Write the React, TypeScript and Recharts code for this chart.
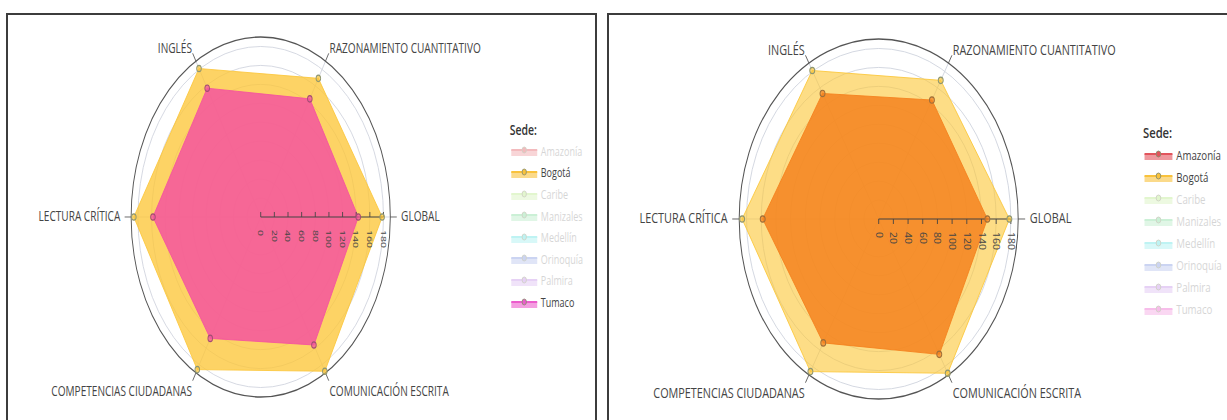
import React from "react";
import { PolarAngleAxis, PolarGrid, PolarRadiusAxis, Radar, RadarChart } from "recharts";

const ejes = [
  "GLOBAL",
  "RAZONAMIENTO CUANTITATIVO",
  "INGLÉS",
  "LECTURA CRÍTICA",
  "COMPETENCIAS CIUDADANAS",
  "COMUNICACIÓN ESCRITA",
];

const bogota = [181, 186, 186, 188, 178, 169];
const tumaco = [157, 158, 148, 156, 143, 144];
const amazonia = [153, 158, 151, 165, 148, 145];

const sedes = ["Amazonía", "Bogotá", "Caribe", "Manizales", "Medellín", "Orinoquía", "Palmira", "Tumaco"];
const coloresSede = ["#e2545c", "#f9c23c", "#b8e986", "#7fdc9a", "#5fe3e3", "#7f95e0", "#c38ee8", "#ec5ccc"];

const ticksRadio = [0, 20, 40, 60, 80, 100, 120, 140, 160, 180];
const maxRadio = 190;

const data = ejes.map((eje, i) => ({
  eje,
  "Bogotá": bogota[i],
  Tumaco: tumaco[i],
  "Amazonía": amazonia[i],
}));

const FONT = "'Open Sans', sans-serif";

type Serie = { sede: string; fill: string; opacity: number; dot: string };

function Leyenda({ activas, left, top, step }: { activas: string[]; left: number; top: number; step: number }) {
  return (
    <div style={{ position: "absolute", left, top, fontFamily: FONT }}>
      <div style={{ fontSize: 14.5, fontWeight: 600, color: "#333", height: step, lineHeight: `${step}px` }}>Sede:</div>
      {sedes.map((s, i) => {
        const on = activas.includes(s);
        return (
          <div key={s} style={{ display: "flex", alignItems: "center", height: step, opacity: on ? 1 : 0.4 }}>
            <svg width={40} height={14}>
              <rect x={2} y={6} width={36} height={6} fill={coloresSede[i]} fillOpacity={0.6} />
              <line x1={2} x2={38} y1={6} y2={6} stroke={coloresSede[i]} strokeWidth={2} />
              <circle cx={20} cy={6} r={3} fill={coloresSede[i]} stroke="#8a8f70" strokeWidth={1} />
            </svg>
            <span style={{ fontSize: 12.5, color: on ? "#444" : "#999", marginLeft: 3 }}>{s}</span>
          </div>
        );
      })}
    </div>
  );
}

function Panel({
  left,
  width,
  k,
  cx,
  cy,
  series,
  ticksUp,
  legendLeft,
  legendTop,
  step,
}: {
  left: number;
  width: number;
  k: number;
  cx: number;
  cy: number;
  series: Serie[];
  ticksUp: boolean;
  legendLeft: number;
  legendTop: number;
  step: number;
}) {
  const ancho = width / k;

  const AngleTick = (props: any) => {
    const { x, y, payload, textAnchor } = props;
    const sign = textAnchor === "end" ? -1 : 1;
    let dx = 6 * sign;
    let dy = 4.5;
    if (y < cy - 20) {
      dx = sign;
      dy = 0;
    } else if (y > cy + 20) {
      dx = sign;
      dy = 15;
    }
    return (
      <text x={x} y={y} dx={dx} dy={dy} textAnchor={textAnchor} fontSize={14} fill="#444" fontFamily={FONT}>
        {payload.value}
      </text>
    );
  };

  const RadialTick = (props: any) => {
    const { x, y, payload } = props;
    return (
      <g>
        <line x1={x} y1={y} x2={x} y2={ticksUp ? y - 5 : y + 5} stroke="#444" strokeWidth={1} />
        <text
          x={x}
          y={y}
          transform={`rotate(90, ${x}, ${y})`}
          dx={13}
          dy={3.8}
          fontSize={10.5}
          fill="#444"
          fontFamily={FONT}
        >
          {payload.value}
        </text>
      </g>
    );
  };

  return (
    <div
      style={{
        position: "absolute",
        left,
        top: 0,
        width: ancho,
        height: 420,
        transform: `scaleX(${k})`,
        transformOrigin: "0 0",
      }}
    >
      <RadarChart
        width={ancho}
        height={420}
        data={data}
        cx={cx}
        cy={cy}
        outerRadius={180}
        startAngle={60}
        endAngle={420}
        margin={{ top: 0, right: 0, bottom: 0, left: 0 }}
      >
        <PolarGrid gridType="circle" stroke="#cfd3dd" />
        {series.map((s) => (
          <Radar
            key={s.sede}
            dataKey={s.sede}
            stroke={s.fill}
            strokeWidth={1}
            fill={s.fill}
            fillOpacity={s.opacity}
            dot={{ r: 3.2, fill: s.fill, stroke: s.dot, strokeWidth: 1.2, fillOpacity: 0.7 }}
            isAnimationActive={false}
          />
        ))}
        <PolarAngleAxis
          dataKey="eje"
          axisLineType="circle"
          axisLine={{ stroke: "#555", strokeWidth: 1.3 }}
          tickLine={{ stroke: "#555" }}
          tickSize={9}
          tick={AngleTick}
        />
        <PolarRadiusAxis
          angle={0}
          type="number"
          domain={[0, maxRadio]}
          ticks={ticksRadio}
          axisLine={{ stroke: "#444", strokeWidth: 1.2 }}
          tick={RadialTick}
        />
      </RadarChart>
      <Leyenda activas={series.map((s) => s.sede)} left={legendLeft} top={legendTop} step={step} />
    </div>
  );
}

export default function App() {
  return (
    <div
      style={{
        position: "absolute",
        left: 0,
        top: 0,
        width: 1227,
        height: 420,
        overflow: "hidden",
        background: "#fff",
      }}
    >
      <div
        style={{
          position: "absolute",
          left: 6,
          top: 13,
          width: 587,
          height: 440,
          border: "2px solid #3c3c3c",
        }}
      />
      <div
        style={{
          position: "absolute",
          left: 607,
          top: 13,
          width: 700,
          height: 440,
          border: "2px solid #3c3c3c",
        }}
      />
      <Panel
        left={8}
        width={587}
        k={0.72}
        cx={351}
        cy={217}
        ticksUp={true}
        legendLeft={697}
        legendTop={119}
        step={21.6}
        series={[
          { sede: "Bogotá", fill: "#fcc63a", opacity: 0.78, dot: "#8e9672" },
          { sede: "Tumaco", fill: "#f4539f", opacity: 0.85, dot: "#a34d73" },
        ]}
      />
      <Panel
        left={609}
        width={618}
        k={0.775}
        cx={348}
        cy={219}
        ticksUp={false}
        legendLeft={689}
        legendTop={122}
        step={22.1}
        series={[
          { sede: "Bogotá", fill: "#fcc83c", opacity: 0.62, dot: "#8e9672" },
          { sede: "Amazonía", fill: "#f5821f", opacity: 0.85, dot: "#a0703a" },
        ]}
      />
    </div>
  );
}
